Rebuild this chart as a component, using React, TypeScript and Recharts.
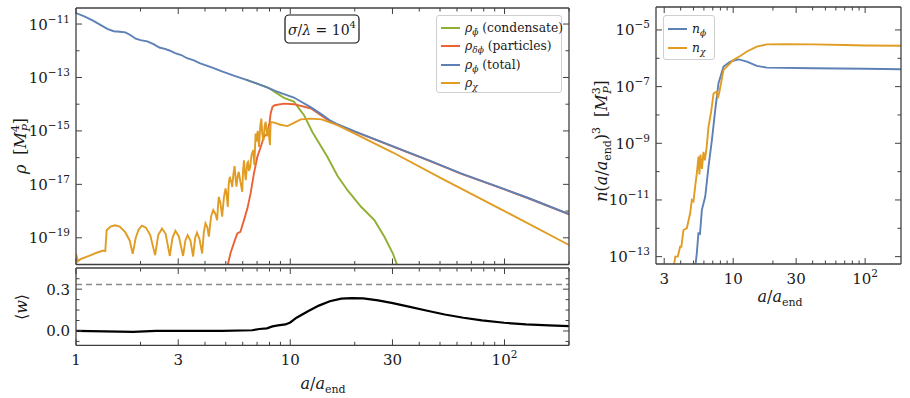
import React from 'react';
import { LineChart, Line, XAxis, YAxis, ReferenceLine, Legend, Customized } from 'recharts';

const FONT = "'DejaVu Serif', serif";
const INK = '#1a1a1a';
const FRAME = '#404040';
const GREEN = '#8FB032';
const RED = '#EB6235';
const BLUE = '#5E81B5';
const ORANGE = '#E19C24';

// ---------- data: [a/a_end, log10(value)] ----------
const rhoCondensate: [number, number][] = [
  [6.2, -13.08], [7.0, -13.23], [7.8, -13.37], [8.1, -13.44],
  [8.5, -13.55], [9.35, -13.76], [10.4, -13.9], [10.8, -14.08], [11.6, -14.41], [12.7, -15.05], [14.9, -15.97],
  [16.6, -16.68], [18.5, -17.22], [21.4, -17.84], [24.7, -18.34], [27.5, -18.96], [30.1, -19.58], [31.8, -20.1],
];

const rhoParticles: [number, number][] = [
  [5.08, -20.1], [5.26, -19.58], [5.45, -19.21], [5.66, -18.84], [5.85, -18.78], [6.08, -18.34], [6.31, -17.9],
  [6.53, -17.34], [6.77, -16.59], [7.02, -15.97], [7.28, -15.6], [7.54, -15.22], [7.8, -15.1], [8.0, -14.7],
  [8.1, -14.35], [8.26, -14.1], [8.46, -14.04], [9.35, -13.98], [10.4, -14.0], [12.5, -14.16], [14.9, -14.58],
  [16.6, -14.77], [20, -15.03], [30, -15.58], [45, -16.13], [63, -16.61], [100, -17.19], [130, -17.53], [200, -18.12],
];

const rhoTotal: [number, number][] = [
  [1, -10.59], [1.1, -10.72], [1.2, -10.87], [1.3, -11.03], [1.4, -11.18], [1.5, -11.27], [1.6, -11.29],
  [1.7, -11.31], [1.8, -11.42], [1.9, -11.55], [2.0, -11.6], [2.15, -11.65], [2.3, -11.75], [2.45, -11.88],
  [2.6, -11.93], [2.75, -12.0], [2.9, -12.09], [3.1, -12.16], [3.3, -12.28], [3.55, -12.36], [3.8, -12.47],
  [4.3, -12.62], [4.8, -12.77], [5.45, -12.93], [6.2, -13.08], [7.0, -13.23], [7.8, -13.37], [8.5, -13.5],
  [9.35, -13.62], [10.4, -13.75], [11.2, -13.9], [12.5, -14.12], [14, -14.38], [15.3, -14.6], [16.6, -14.75],
  [20, -15.02], [30, -15.57], [45, -16.12], [63, -16.6], [100, -17.18], [130, -17.52], [200, -18.11],
];

const rhoChi: [number, number][] = [
  [1, -19.6], [1.02, -19.88], [1.05, -19.8], [1.15, -19.68], [1.25, -19.56], [1.34, -19.48], [1.37, -19.5],
  [1.39, -18.72], [1.45, -18.58], [1.52, -18.53], [1.6, -18.58], [1.7, -18.8], [1.78, -19.1], [1.84, -19.6],
  [1.9, -19.0], [1.96, -18.7], [2.03, -18.55], [2.12, -18.62], [2.22, -18.9], [2.34, -19.65], [2.42, -18.9],
  [2.52, -18.65], [2.62, -18.85], [2.74, -19.68], [2.82, -19.0], [2.91, -18.74], [3.02, -18.95], [3.16, -19.68],
  [3.24, -19.1], [3.32, -18.9], [3.42, -19.1], [3.52, -19.7], [3.6, -19.0], [3.67, -18.81], [3.77, -19.05],
  [3.88, -19.59], [3.95, -18.8], [4.02, -18.46], [4.1, -18.6], [4.17, -18.96], [4.27, -18.2], [4.37, -17.96],
  [4.47, -18.1], [4.56, -18.34], [4.6, -17.8], [4.64, -17.47], [4.72, -17.7], [4.81, -18.21], [4.9, -17.5],
  [4.99, -17.15], [5.05, -17.4], [5.11, -17.84], [5.16, -17.0], [5.22, -16.72], [5.3, -16.9], [5.36, -17.1],
  [5.43, -16.6], [5.5, -16.32], [5.56, -16.8], [5.61, -17.09], [5.68, -16.7], [5.75, -16.53], [5.85, -16.9],
  [5.97, -17.28], [6.02, -16.5], [6.08, -16.1], [6.15, -16.6], [6.2, -16.84], [6.3, -16.2], [6.35, -16.16],
  [6.42, -16.5], [6.5, -16.35], [6.6, -15.9], [6.72, -15.72], [6.8, -16.28], [6.89, -15.1], [6.95, -15.4],
  [7.05, -15.0], [7.15, -15.6], [7.25, -14.8], [7.33, -14.54], [7.4, -15.1], [7.5, -15.35], [7.6, -14.8],
  [7.68, -14.66], [7.8, -15.2], [7.9, -14.9], [8.04, -15.53], [8.1, -14.66], [8.5, -14.7], [9.0, -14.77],
  [9.7, -14.82], [10.4, -14.7], [11.2, -14.57], [12.5, -14.54], [14, -14.57], [16.6, -14.78], [20, -15.1],
  [30, -15.8], [50, -16.75], [100, -18.0], [200, -19.27],
];

// equation of state <w> : [a/a_end, w]
const wMean: [number, number][] = [
  [1, 0.0], [1.85, -0.007], [2.36, 0.0], [4.82, 0.0], [6.63, 0.005], [7.18, 0.014], [7.78, 0.019], [8.26, 0.033],
  [8.77, 0.04], [9.49, 0.047], [10, 0.061], [10.7, 0.095], [12.1, 0.142], [13.6, 0.182], [15.3, 0.213],
  [17.3, 0.232], [19.4, 0.236], [21.9, 0.234], [25.7, 0.22], [30.1, 0.2], [35.3, 0.177], [43.1, 0.147],
  [52.6, 0.118], [64.3, 0.095], [78.4, 0.076], [99.6, 0.059], [126, 0.047], [161, 0.04], [200, 0.035],
];

// comoving number densities: [a/a_end, log10(n (a/a_end)^3)]
const nPhi: [number, number][] = [
  [5.15, -13.4], [5.3, -12.88], [5.45, -12.18], [5.6, -12.2], [5.79, -11.35], [6.14, -10.88], [6.5, -9.82],
  [6.9, -8.88], [7.31, -7.82], [7.74, -6.88], [8.45, -6.29], [9.5, -6.12], [11, -6.04], [12.7, -6.12],
  [15.1, -6.27], [18, -6.33], [40.6, -6.35], [100, -6.37], [190, -6.39],
];

const nChi: [number, number][] = [
  [3.53, -13.4], [3.64, -13.0], [3.8, -13.0], [3.96, -12.65], [4.05, -12.65], [4.2, -12.06], [4.45, -12.0],
  [4.72, -11.47], [4.86, -11.0], [5.0, -11.05], [5.15, -10.53], [5.3, -10.06], [5.46, -9.47], [5.55, -10.1],
  [5.65, -9.4], [5.8, -9.9], [5.95, -9.3], [6.1, -9.6], [6.3, -9.12], [6.5, -8.41], [6.8, -7.9], [7.1, -7.24],
  [7.3, -7.2], [7.53, -7.18], [7.65, -7.41], [7.85, -7.2], [8.45, -6.41], [9.2, -6.24], [10, -6.06],
  [11.3, -5.92], [12.7, -5.76], [15.1, -5.59], [18, -5.51], [25, -5.5], [40, -5.51], [70, -5.53], [100, -5.55],
  [190, -5.56],
];

// ticks
const xTicksLeft = [1, 2, 3, 4, 5, 6, 7, 8, 9, 10, 20, 30, 40, 50, 60, 70, 80, 90, 100, 200];
const xTicksRight = [3, 4, 5, 6, 7, 8, 9, 10, 20, 30, 40, 50, 60, 70, 80, 90, 100];
const xMajor = [1, 3, 10, 30, 100];
const xLabels: Record<number, string> = { 1: '1', 3: '3', 10: '10', 30: '30', 100: '10^2' };
const rhoTickExps = [-11, -12, -13, -14, -15, -16, -17, -18, -19];
const rhoLabelExps = [-11, -13, -15, -17, -19];
const nTickExps = [-5, -6, -7, -8, -9, -10, -11, -12, -13];
const nLabelExps = [-5, -7, -9, -11, -13];
const wTicks = [-0.075, 0, 0.075, 0.15, 0.225, 0.3, 0.375];
const wLabels: Record<string, string> = { '0': '0.0', '0.3': '0.3' };

// legend entries
const rhoLegend = [
  { key: 'condensate', color: GREEN },
  { key: 'particles', color: RED },
  { key: 'total', color: BLUE },
  { key: 'chi', color: ORANGE },
];
const nLegend = [
  { key: 'nphi', color: BLUE },
  { key: 'nchi', color: ORANGE },
];

// ---------- helpers ----------
const logRows = (pts: [number, number][]) => pts.map(([x, l]) => ({ x, y: Math.pow(10, l) }));
const linRows = (pts: [number, number][]) => pts.map(([x, y]) => ({ x, y }));
const expOf = (v: number) => Math.round(Math.log10(v));

const TICK_FS = 15;
const SUP_FS = 10.5;
const LW = 1.9;

const powLabel = (s: string) => {
  if (s.includes('^')) {
    const [b, e] = s.split('^');
    return (
      <>
        <tspan>{b}</tspan>
        <tspan dy={-7} fontSize={SUP_FS}>{e}</tspan>
      </>
    );
  }
  return <tspan>{s}</tspan>;
};

type Side = 'bottom' | 'top' | 'left' | 'right';
const makeTick = (side: Side, isMajor: (v: number) => boolean, label?: (v: number) => string | null) => (p: any) => {
  const v = p.payload.value;
  const len = isMajor(v) ? 6 : 3.5;
  let x2 = p.x;
  let y2 = p.y;
  if (side === 'bottom') y2 = p.y - len;
  else if (side === 'top') y2 = p.y + len;
  else if (side === 'left') x2 = p.x + len;
  else x2 = p.x - len;
  const lab = label ? label(v) : null;
  return (
    <g>
      <line x1={p.x} y1={p.y} x2={x2} y2={y2} stroke={FRAME} strokeWidth={1} />
      {lab != null && side === 'bottom' && (
        <text x={p.x} y={p.y + 20} textAnchor="middle" fontFamily={FONT} fontSize={TICK_FS} fill={INK}>
          {powLabel(lab)}
        </text>
      )}
      {lab != null && side === 'left' && (
        <text x={p.x - 6} y={p.y + 5.5} textAnchor="end" fontFamily={FONT} fontSize={TICK_FS} fill={INK}>
          {powLabel(lab)}
        </text>
      )}
    </g>
  );
};

const xIsMajor = (v: number) => xMajor.includes(v);
const xLab = (v: number) => xLabels[v] ?? null;
const rhoMajor = (v: number) => rhoLabelExps.includes(expOf(v));
const rhoLab = (v: number) => (rhoLabelExps.includes(expOf(v)) ? `10^−${-expOf(v)}` : null);
const nMajor = (v: number) => nLabelExps.includes(expOf(v));
const nLab = (v: number) => (nLabelExps.includes(expOf(v)) ? `10^−${-expOf(v)}` : null);
const wKey = (v: number) => String(Math.round(v * 1000) / 1000);
const wMajor = (v: number) => wLabels[wKey(v)] !== undefined;
const wLab = (v: number) => wLabels[wKey(v)] ?? null;

const axisLine = { stroke: FRAME, strokeWidth: 1.3 };

const subStyle: React.CSSProperties = { fontSize: 9, verticalAlign: '-3px', lineHeight: 0 };
const legendLabels: Record<string, React.ReactNode> = {
  condensate: (
    <>
      <i>ρ</i><span style={subStyle}><i>ϕ̄</i></span>&nbsp;(condensate)
    </>
  ),
  particles: (
    <>
      <i>ρ</i><span style={subStyle}><i>δϕ</i></span>&nbsp;(particles)
    </>
  ),
  total: (
    <>
      <i>ρ</i><span style={subStyle}><i>ϕ</i></span>&nbsp;(total)
    </>
  ),
  chi: (
    <>
      <i>ρ</i><span style={subStyle}><i>χ</i></span>
    </>
  ),
  nphi: (
    <>
      <i>n</i><span style={subStyle}><i>ϕ</i></span>
    </>
  ),
  nchi: (
    <>
      <i>n</i><span style={subStyle}><i>χ</i></span>
    </>
  ),
};

const legendContent = (entries: { key: string; color: string }[], rowH: number, w: number, h: number) => () => (
  <div
    style={{
      width: w,
      height: h,
      border: '1px solid #cfcfcf',
      borderRadius: 3,
      background: 'rgba(255,255,255,0.85)',
      padding: '3px 4px',
      fontFamily: FONT,
      fontSize: 12.3,
      color: INK,
      boxSizing: 'border-box',
    }}
  >
    {entries.map((e) => (
      <div key={e.key} style={{ display: 'flex', alignItems: 'center', height: rowH, whiteSpace: 'nowrap' }}>
        <span style={{ display: 'inline-block', width: 19, height: 2, background: e.color, marginRight: 5, flex: 'none' }} />
        <span>{legendLabels[e.key]}</span>
      </div>
    ))}
  </div>
);

const W = 910;
const H = 398;
const TITLE_FS = 16;
const TSUB = 11;

const aOverAend = (
  <>
    <tspan fontStyle="italic">a</tspan>
    <tspan>/</tspan>
    <tspan fontStyle="italic">a</tspan>
    <tspan dy={4} fontSize={TSUB}>end</tspan>
  </>
);

const Titles = () => (
  <g fontFamily={FONT} fill={INK}>
    {/* top-left y title */}
    <text transform="translate(26,146) rotate(-90)" textAnchor="middle" fontSize={TITLE_FS}>
      <tspan fontStyle="italic">ρ</tspan>
      <tspan dx={10}>[</tspan>
      <tspan fontStyle="italic">M</tspan>
      <tspan dy={-7} fontSize={TSUB}>4</tspan>
      <tspan dx={-6.5} dy={11} fontSize={TSUB} fontStyle="italic">P</tspan>
      <tspan dy={-4}>]</tspan>
    </text>
    {/* bottom-left y title */}
    <text transform="translate(27,307) rotate(-90)" textAnchor="middle" fontSize={TITLE_FS}>
      <tspan>⟨</tspan>
      <tspan fontStyle="italic">w</tspan>
      <tspan>⟩</tspan>
    </text>
    {/* right y title */}
    <text transform="translate(607,141) rotate(-90)" textAnchor="middle" fontSize={TITLE_FS}>
      <tspan fontStyle="italic">n</tspan>
      <tspan>(</tspan>
      {aOverAend}
      <tspan dy={-4}>)</tspan>
      <tspan dy={-7} fontSize={TSUB}>3</tspan>
      <tspan dx={10} dy={7}>[</tspan>
      <tspan fontStyle="italic">M</tspan>
      <tspan dy={-7} fontSize={TSUB}>3</tspan>
      <tspan dx={-6.5} dy={11} fontSize={TSUB} fontStyle="italic">P</tspan>
      <tspan dy={-4}>]</tspan>
    </text>
    {/* x titles */}
    <text x={323} y={389} textAnchor="middle" fontSize={TITLE_FS}>
      {aOverAend}
    </text>
    <text x={780} y={302} textAnchor="middle" fontSize={TITLE_FS}>
      {aOverAend}
    </text>
    {/* annotation box */}
    <rect x={285} y={15} width={74} height={28} rx={4} ry={4} fill="#fff" stroke="#111" strokeWidth={1.2} />
    <text x={322} y={34.5} textAnchor="middle" fontSize={14}>
      <tspan fontStyle="italic">σ</tspan>
      <tspan>/</tspan>
      <tspan fontStyle="italic">λ</tspan>
      <tspan> = 10</tspan>
      <tspan dy={-6.5} fontSize={10}>4</tspan>
    </text>
  </g>
);

export default function App() {
  const layer: React.CSSProperties = { position: 'absolute', left: 0, top: 0 };
  return (
    <div style={{ position: 'absolute', left: 0, top: 0, width: W, height: H, background: '#fff', overflow: 'hidden' }}>
      {/* top-left: energy densities */}
      <div style={layer}>
        <LineChart width={W} height={H} margin={{ top: 7, right: 340, bottom: 132.5, left: 36 }}>
          <XAxis
            xAxisId="b" dataKey="x" type="number" scale="log" domain={[1, 200]} allowDataOverflow
            ticks={xTicksLeft} interval={0} height={1} tickSize={0} tickMargin={0} tickLine={false}
            axisLine={axisLine} tick={makeTick('bottom', xIsMajor)}
          />
          <XAxis
            xAxisId="t" orientation="top" dataKey="x" type="number" scale="log" domain={[1, 200]} allowDataOverflow
            ticks={xTicksLeft} interval={0} height={1} tickSize={0} tickMargin={0} tickLine={false}
            axisLine={axisLine} tick={makeTick('top', xIsMajor)}
          />
          <YAxis
            yAxisId="l" type="number" scale="log" domain={[1e-20, Math.pow(10, -10.4)]} allowDataOverflow
            ticks={rhoTickExps.map((e) => Math.pow(10, e))} interval={0} width={40} tickSize={0} tickMargin={0}
            tickLine={false} axisLine={axisLine} tick={makeTick('left', rhoMajor, rhoLab)}
          />
          <YAxis
            yAxisId="r" orientation="right" type="number" scale="log" domain={[1e-20, Math.pow(10, -10.4)]} allowDataOverflow
            ticks={rhoTickExps.map((e) => Math.pow(10, e))} interval={0} width={1} tickSize={0} tickMargin={0}
            tickLine={false} axisLine={axisLine} tick={makeTick('right', rhoMajor)}
          />
          <Line xAxisId="b" yAxisId="l" name="condensate" data={logRows(rhoCondensate)} dataKey="y" stroke={GREEN} strokeWidth={LW} dot={false} isAnimationActive={false} />
          <Line xAxisId="b" yAxisId="l" name="particles" data={logRows(rhoParticles)} dataKey="y" stroke={RED} strokeWidth={LW} dot={false} isAnimationActive={false} />
          <Line xAxisId="b" yAxisId="l" name="total" data={logRows(rhoTotal)} dataKey="y" stroke={BLUE} strokeWidth={LW} dot={false} isAnimationActive={false} />
          <Line xAxisId="b" yAxisId="l" name="chi" data={logRows(rhoChi)} dataKey="y" stroke={ORANGE} strokeWidth={LW} dot={false} isAnimationActive={false} />
          <Legend
            layout="vertical" align="center" verticalAlign="middle"
            wrapperStyle={{ left: 436, top: 15, width: 126 }}
            content={legendContent(rhoLegend, 18.3, 126, 78)}
          />
          <Customized component={Titles} />
        </LineChart>
      </div>

      {/* bottom-left: equation of state */}
      <div style={layer}>
        <LineChart width={W} height={H} margin={{ top: 267, right: 340, bottom: 51.7, left: 36 }}>
          <XAxis
            xAxisId="b" dataKey="x" type="number" scale="log" domain={[1, 200]} allowDataOverflow
            ticks={xTicksLeft} interval={0} height={1} tickSize={0} tickMargin={0} tickLine={false}
            axisLine={axisLine} tick={makeTick('bottom', xIsMajor, xLab)}
          />
          <XAxis
            xAxisId="t" orientation="top" dataKey="x" type="number" scale="log" domain={[1, 200]} allowDataOverflow
            ticks={xTicksLeft} interval={0} height={1} tickSize={0} tickMargin={0} tickLine={false}
            axisLine={axisLine} tick={makeTick('top', xIsMajor)}
          />
          <YAxis
            yAxisId="l" type="number" domain={[-0.103, 0.452]} allowDataOverflow ticks={wTicks} interval={0}
            width={40} tickSize={0} tickMargin={0} tickLine={false} axisLine={axisLine}
            tick={makeTick('left', wMajor, wLab)}
          />
          <YAxis
            yAxisId="r" orientation="right" type="number" domain={[-0.103, 0.452]} allowDataOverflow ticks={wTicks}
            interval={0} width={1} tickSize={0} tickMargin={0} tickLine={false} axisLine={axisLine}
            tick={makeTick('right', wMajor)}
          />
          <ReferenceLine xAxisId="b" yAxisId="l" y={1 / 3} stroke="#8a8a8a" strokeWidth={1.4} strokeDasharray="6 4" />
          <Line xAxisId="b" yAxisId="l" name="w" data={linRows(wMean)} dataKey="y" stroke="#000" strokeWidth={2.2} dot={false} isAnimationActive={false} />
        </LineChart>
      </div>

      {/* right: number densities */}
      <div style={layer}>
        <LineChart width={W} height={H} margin={{ top: 6, right: 8, bottom: 133, left: 616 }}>
          <XAxis
            xAxisId="b" dataKey="x" type="number" scale="log" domain={[2.6, 187]} allowDataOverflow
            ticks={xTicksRight} interval={0} height={1} tickSize={0} tickMargin={0} tickLine={false}
            axisLine={axisLine} tick={makeTick('bottom', xIsMajor, xLab)}
          />
          <XAxis
            xAxisId="t" orientation="top" dataKey="x" type="number" scale="log" domain={[2.6, 187]} allowDataOverflow
            ticks={xTicksRight} interval={0} height={1} tickSize={0} tickMargin={0} tickLine={false}
            axisLine={axisLine} tick={makeTick('top', xIsMajor)}
          />
          <YAxis
            yAxisId="l" type="number" scale="log" domain={[Math.pow(10, -13.26), Math.pow(10, -4.19)]} allowDataOverflow
            ticks={nTickExps.map((e) => Math.pow(10, e))} interval={0} width={40} tickSize={0} tickMargin={0}
            tickLine={false} axisLine={axisLine} tick={makeTick('left', nMajor, nLab)}
          />
          <YAxis
            yAxisId="r" orientation="right" type="number" scale="log" domain={[Math.pow(10, -13.26), Math.pow(10, -4.19)]} allowDataOverflow
            ticks={nTickExps.map((e) => Math.pow(10, e))} interval={0} width={1} tickSize={0} tickMargin={0}
            tickLine={false} axisLine={axisLine} tick={makeTick('right', nMajor)}
          />
          <Line xAxisId="b" yAxisId="l" name="nphi" data={logRows(nPhi)} dataKey="y" stroke={BLUE} strokeWidth={LW} dot={false} isAnimationActive={false} />
          <Line xAxisId="b" yAxisId="l" name="nchi" data={logRows(nChi)} dataKey="y" stroke={ORANGE} strokeWidth={LW} dot={false} isAnimationActive={false} />
          <Legend
            layout="vertical" align="center" verticalAlign="middle"
            wrapperStyle={{ left: 663, top: 15, width: 52 }}
            content={legendContent(nLegend, 19, 52, 45)}
          />
        </LineChart>
      </div>
    </div>
  );
}
